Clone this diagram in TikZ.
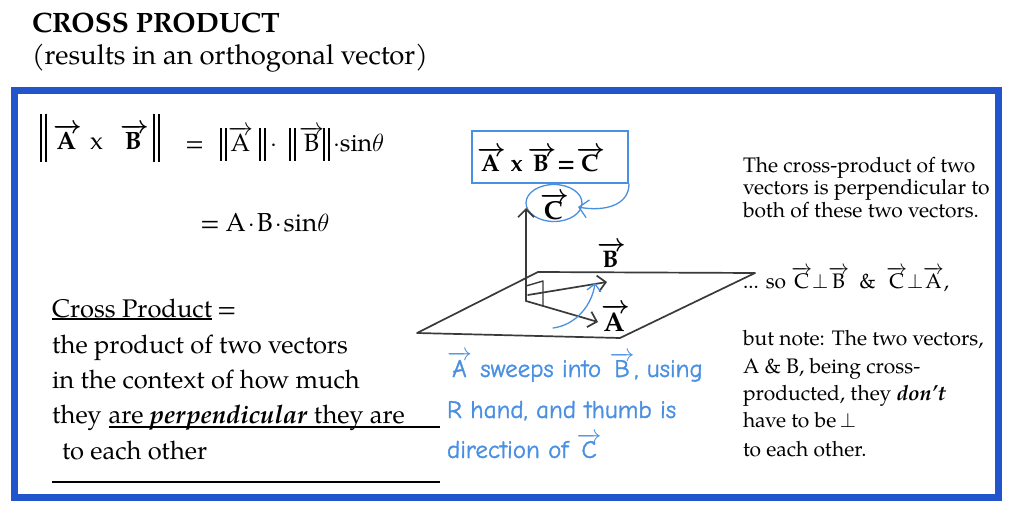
\documentclass[tikz,border=0pt]{standalone}
\usepackage{fontspec}
\usetikzlibrary{shapes.geometric,arrows.meta}
\IfFontExistsTF{texgyrepagella-regular.otf}{\setmainfont{texgyrepagella}[Extension=.otf,UprightFont=*-regular,BoldFont=*-bold,ItalicFont=*-italic,BoldItalicFont=*-bolditalic]}{\setmainfont{Liberation Serif}}
\IfFontExistsTF{Comic Neue}{\newfontfamily\hand{Comic Neue}[UprightFeatures={FakeBold=1.3}]}{\newfontfamily\hand{Open Sans}[UprightFont={* Italic},UprightFeatures={FakeBold=1.2}]}
\newcommand\fsz[1]{\fontsize{#1}{#1}\selectfont}
\newcommand\bvec[1]{{\boldmath$\overrightarrow{\textbf{#1}\hspace{0.08em}}$}}
\newcommand\rvec[1]{$\overrightarrow{\mathrm{#1}}$}
\newcommand\hvec[1]{$\overrightarrow{\mbox{#1}}$}
\definecolor{frame}{HTML}{2255CC}
\definecolor{hb}{HTML}{4A90E2}
\definecolor{sk}{HTML}{3A3A3A}
\begin{document}
\begin{tikzpicture}[x=1pt,y=-1pt,
  txt/.style={anchor=base west,inner sep=0pt,outer sep=0pt},
  sketch/.style={draw=sk,line width=1.7pt,line cap=round,line join=round},
  barb/.style={-{Straight Barb[length=8pt,width=16pt]}},
  handc/.style={draw=hb,line width=1.3pt,line cap=round},
  htxt/.style={txt,font=\hand\fsz{25},text=hb},
  rtxt/.style={txt,font=\fsz{21}},
  ltxt/.style={txt,font=\fsz{25.5}},
  ftxt/.style={txt,font=\fsz{25}},
  bar/.style={line width=1.5pt},
]
\useasboundingbox (0,0) rectangle (1024,521);
\fill[white] (0,0) rectangle (1024,521);

% title
\node[txt,font=\fsz{28}\bfseries] (title) at (32,33) {CROSS PRODUCT};
\node[txt,font=\fsz{27.5}] (sub) at (32,65) {(results in an orthogonal vector)};

% frame
\draw[draw=frame,line width=7pt] (14.5,90.5) rectangle (998.5,497.5);

% formula line 1
\node[ftxt] (f1a) at (53,150) {\bvec{A}};
\node[ftxt] (f1x) at (90,150) {x};
\node[ftxt] (f1b) at (120,150) {\bvec{B}};
\foreach \xx in {41,46,154,159} \draw[bar] (\xx,114) -- (\xx,162);
\node[ftxt] (f2e) at (185,152) {=};
\node[ftxt] (f2a) at (228,152) {\rvec{A}};
\node[ftxt] (f2d) at (270,152) {$\cdot$};
\node[ftxt] (f2b) at (299,152) {\rvec{B}};
\node[ftxt] (f2s) at (333,152) {$\cdot$sin$\theta$};
\foreach \xx in {221,226,260,265,290,295,324,329} \draw[bar] (\xx,128) -- (\xx,161);
% formula line 2
\node[txt,font=\fsz{26}] (f3) at (200,232) {=\hspace{6pt}A\hspace{2pt}$\cdot$\hspace{2pt}B\hspace{2pt}$\cdot$\hspace{2pt}sin$\theta$};

% left text
\node[ltxt] (l1) at (52,317) {Cross Product};
\node[ltxt] (l1b) at ([xshift=5pt]l1.base east) {=};
\node[ltxt] (l2) at (52,353) {the product of two vectors};
\node[ltxt] (l3) at (52,388) {in the context of how much};
\node[ltxt] (l4a) at (52,423) {they};
\node[ltxt] (l4b) at ([xshift=7pt]l4a.base east) {are \textbf{\textit{perpendicular}} they are};
\node[ltxt] (l5) at (62,459) {to each other};
\coordinate (u4b) at (440,427);
\coordinate (u5a) at (52,482); \coordinate (u5b) at (440,482);
\draw[line width=1.2pt] ([yshift=-2pt]l1.base west) -- ([yshift=-2pt]l1.base east);
\draw[line width=1.2pt] ([yshift=-4pt]l4b.base west) -- (u4b);
\draw[line width=1.5pt] (u5a) -- (u5b);

% box formula
\node[draw=hb,line width=2pt,anchor=north west,minimum width=156pt,minimum height=52pt,inner sep=0pt] (bx) at (471,130) {};
\node[txt,font=\fsz{24}\bfseries] (bxt) at (477,172) {\bvec{A}\hspace{5pt}x\hspace{5pt}\bvec{B}\hspace{1pt}=\hspace{1pt}\bvec{C}};

% circled C
\node[draw=hb,ellipse,line width=1.3pt,minimum width=56pt,minimum height=37pt,inner sep=0pt] (cc) at (554,203) {};
\node[txt,font=\fsz{26}] (cl) at (540,220) {\bvec{C}};
\coordinate (ctip) at (578,207);
\draw[handc,-{Straight Barb[length=9pt,width=18pt]}] (bx.south east) .. controls (629,205) and (605,212) .. (ctip);

% sketch
\coordinate (O) at (526,301);
\coordinate (P1) at (538,272);
\coordinate (P2) at (755,273);
\coordinate (P3) at (620,338);
\coordinate (P4) at (417,333);
\coordinate (Ctop) at (526,208);
\coordinate (Atip) at (598,322);
\coordinate (Bs) at (528,295);
\coordinate (Btip) at (607,282);
\draw[sketch] (P1) -- (P2) -- (P3) -- (P4) -- cycle;
\draw[sketch,barb] (O) -- (Ctop);
\draw[sketch,barb] (O) -- (Atip);
\draw[sketch,barb] (Bs) -- (Btip);
\draw[sketch,line width=1.4pt] (526,286) -- (543,281) -- (543,306);
\node[txt,font=\fsz{24}] (Bl) at (597,267) {\bvec{B}};
\node[txt,font=\fsz{27}] (Al) at (601,331) {\bvec{A}};
\coordinate (sw1) at (553,328);
\coordinate (sw2) at (595,283);
\draw[handc,-{Straight Barb[length=7pt,width=14pt]}] (sw1) .. controls (576,325) and (592,305) .. (sw2);

% handwriting
\node[htxt] (h1) at (447,377) {\hvec{A} sweeps into \hvec{B}, using};
\node[htxt] (h2) at (447,418) {R hand, and thumb is};
\node[htxt] (h3) at (447,458) {direction of \hvec{C}};

% right text
\node[rtxt] (r1) at (743,173) {The cross-product of two};
\node[rtxt] (r2) at (743,195) {vectors is perpendicular to};
\node[rtxt] (r3) at (743,218) {both of these two vectors.};
\node[rtxt] (r4) at (743,288) {... so \rvec{C}$\mathord{\perp}$\rvec{B}\ \ \&\ \ \rvec{C}$\mathord{\perp}$\rvec{A},};
\node[rtxt] (r5) at (743,345) {but note: The two vectors,};
\node[rtxt] (r6) at (743,373) {A \& B, being cross-};
\node[rtxt] (r7) at (743,400) {producted, they \textbf{\textit{don’t}}};
\node[rtxt] (r8) at (743,427) {have to be\,$\mathord{\perp}$};
\node[rtxt] (r9) at (743,456) {to each other.};
\end{tikzpicture}
\end{document}
